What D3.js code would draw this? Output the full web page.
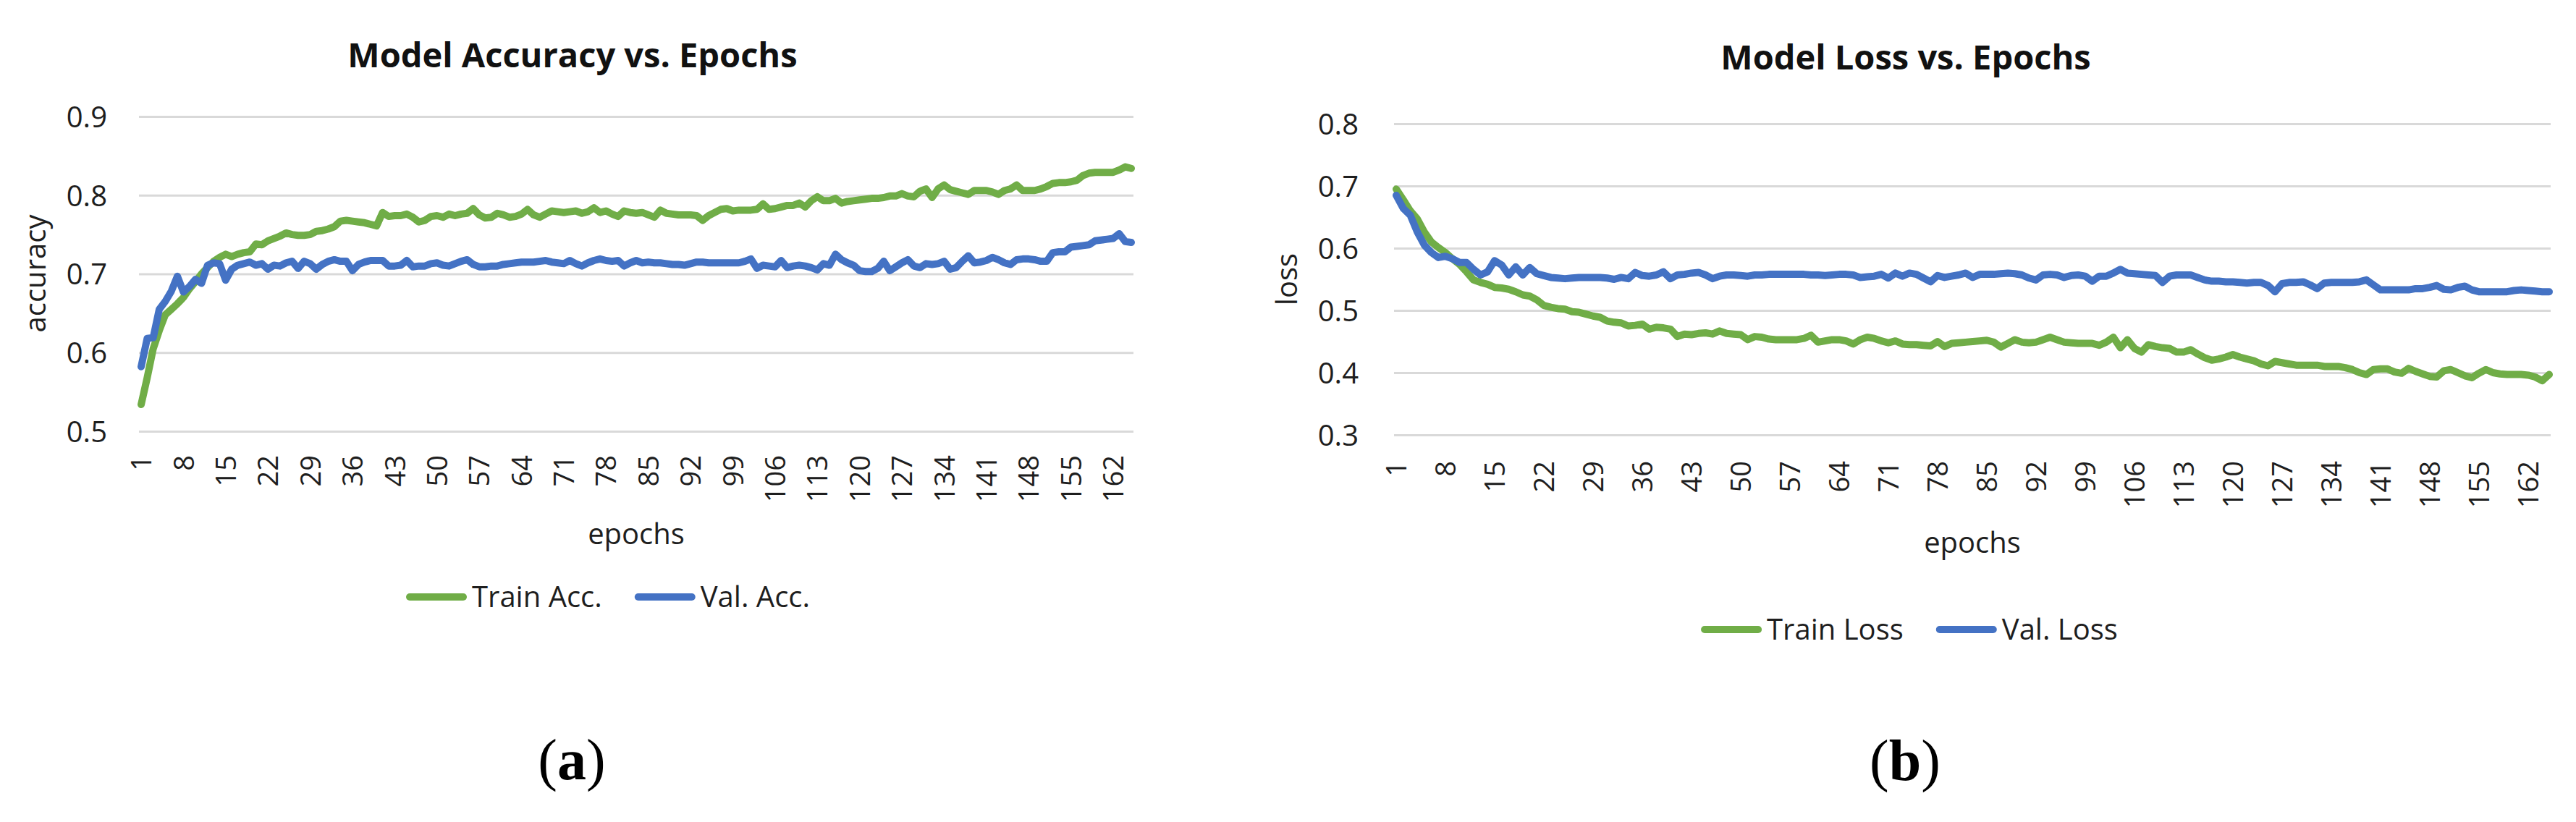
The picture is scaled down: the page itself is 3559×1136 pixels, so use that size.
<!DOCTYPE html>
<html>
<head>
<meta charset="utf-8">
<script src="https://cdn.jsdelivr.net/npm/d3@7"></script>
<style>
  html, body { margin: 0; padding: 0; background: #ffffff; }
  svg text { font-family: "Open Sans", "Noto Sans", "DejaVu Sans", sans-serif; }
  svg text.caption { font-family: "Liberation Serif", "DejaVu Serif", serif; }
</style>
</head>
<body>
<svg id="fig" width="3559" height="1136"></svg>
<script>
// ---------------- DATA ----------------
const trainAcc = [
  0.534,0.568,0.605,0.628,0.648,0.655,0.662,0.670,0.681,0.690,
  0.700,0.708,0.716,0.721,0.725,0.722,0.725,0.727,0.728,0.738,
  0.737,0.742,0.745,0.748,0.752,0.750,0.749,0.749,0.750,0.754,
  0.755,0.757,0.760,0.767,0.768,0.767,0.766,0.765,0.763,0.761,
  0.778,0.773,0.774,0.774,0.776,0.772,0.766,0.768,0.773,0.774,
  0.772,0.776,0.774,0.776,0.777,0.783,0.775,0.771,0.772,0.777,
  0.775,0.772,0.773,0.776,0.782,0.775,0.772,0.776,0.780,0.779,
  0.778,0.779,0.780,0.777,0.779,0.784,0.778,0.780,0.776,0.773,
  0.780,0.778,0.777,0.778,0.775,0.772,0.781,0.777,0.776,0.775,
  0.775,0.775,0.774,0.768,0.774,0.778,0.782,0.783,0.780,0.781,
  0.781,0.781,0.782,0.789,0.782,0.783,0.785,0.787,0.787,0.790,
  0.785,0.793,0.798,0.793,0.793,0.796,0.790,0.792,0.793,0.794,
  0.795,0.796,0.796,0.797,0.799,0.799,0.802,0.799,0.798,0.805,
  0.808,0.797,0.808,0.813,0.807,0.805,0.803,0.801,0.806,0.806,
  0.806,0.804,0.801,0.806,0.808,0.813,0.806,0.806,0.806,0.808,
  0.811,0.815,0.816,0.816,0.817,0.819,0.825,0.828,0.829,0.829,
  0.829,0.829,0.832,0.836,0.834
];
const valAcc = [
  0.582,0.618,0.619,0.655,0.665,0.678,0.697,0.677,0.684,0.693,
  0.688,0.711,0.714,0.713,0.692,0.706,0.711,0.713,0.715,0.711,
  0.713,0.706,0.711,0.710,0.714,0.716,0.707,0.716,0.713,0.706,
  0.712,0.716,0.718,0.716,0.716,0.704,0.712,0.715,0.717,0.717,
  0.717,0.710,0.710,0.711,0.717,0.709,0.710,0.710,0.713,0.714,
  0.711,0.710,0.713,0.716,0.718,0.712,0.709,0.709,0.710,0.710,
  0.712,0.713,0.714,0.715,0.715,0.715,0.716,0.717,0.715,0.714,
  0.713,0.717,0.713,0.710,0.714,0.717,0.719,0.717,0.716,0.717,
  0.710,0.714,0.717,0.714,0.715,0.714,0.714,0.713,0.712,0.712,
  0.711,0.713,0.715,0.715,0.714,0.714,0.714,0.714,0.714,0.714,
  0.716,0.719,0.707,0.711,0.710,0.709,0.717,0.708,0.710,0.711,
  0.710,0.708,0.705,0.713,0.711,0.725,0.718,0.714,0.711,0.704,
  0.703,0.703,0.707,0.716,0.704,0.709,0.714,0.718,0.710,0.708,
  0.713,0.712,0.713,0.716,0.706,0.708,0.716,0.723,0.714,0.715,
  0.717,0.721,0.718,0.714,0.712,0.718,0.719,0.719,0.718,0.716,
  0.716,0.727,0.728,0.728,0.734,0.735,0.736,0.737,0.742,0.743,
  0.744,0.745,0.751,0.741,0.740
];
const trainLoss = [
  0.695,0.678,0.660,0.647,0.626,0.610,0.601,0.593,0.583,0.574,
  0.562,0.549,0.545,0.542,0.537,0.536,0.534,0.530,0.525,0.523,
  0.517,0.508,0.505,0.503,0.502,0.498,0.497,0.494,0.491,0.489,
  0.483,0.481,0.480,0.475,0.476,0.478,0.470,0.473,0.472,0.470,
  0.458,0.462,0.461,0.463,0.464,0.462,0.467,0.463,0.462,0.461,
  0.453,0.458,0.457,0.454,0.453,0.453,0.453,0.453,0.455,0.460,
  0.449,0.451,0.453,0.453,0.451,0.446,0.453,0.457,0.455,0.451,
  0.448,0.451,0.446,0.445,0.445,0.444,0.443,0.450,0.442,0.447,
  0.448,0.449,0.450,0.451,0.452,0.449,0.441,0.447,0.453,0.449,
  0.448,0.449,0.453,0.457,0.453,0.449,0.448,0.447,0.447,0.447,
  0.444,0.449,0.457,0.440,0.453,0.439,0.433,0.445,0.442,0.440,
  0.439,0.433,0.433,0.437,0.430,0.424,0.420,0.422,0.425,0.429,
  0.425,0.422,0.419,0.414,0.411,0.418,0.416,0.414,0.412,0.412,
  0.412,0.412,0.410,0.410,0.410,0.408,0.405,0.400,0.397,0.405,
  0.406,0.406,0.401,0.399,0.407,0.402,0.398,0.394,0.393,0.403,
  0.405,0.400,0.395,0.392,0.399,0.405,0.400,0.398,0.397,0.397,
  0.397,0.396,0.393,0.387,0.397
];
const valLoss = [
  0.685,0.664,0.653,0.626,0.605,0.593,0.585,0.587,0.583,0.577,
  0.577,0.566,0.557,0.562,0.580,0.573,0.557,0.570,0.557,0.569,
  0.559,0.556,0.553,0.552,0.551,0.552,0.553,0.553,0.553,0.553,
  0.552,0.550,0.553,0.551,0.561,0.556,0.555,0.557,0.562,0.551,
  0.557,0.558,0.560,0.561,0.557,0.551,0.555,0.557,0.557,0.556,
  0.555,0.557,0.557,0.558,0.558,0.558,0.558,0.558,0.558,0.557,
  0.557,0.556,0.557,0.558,0.558,0.557,0.553,0.554,0.555,0.558,
  0.552,0.560,0.555,0.560,0.558,0.552,0.546,0.556,0.553,0.555,
  0.557,0.560,0.553,0.558,0.558,0.558,0.559,0.560,0.559,0.557,
  0.552,0.549,0.557,0.558,0.557,0.553,0.556,0.557,0.555,0.547,
  0.555,0.555,0.560,0.566,0.560,0.559,0.558,0.557,0.556,0.545,
  0.555,0.557,0.557,0.557,0.553,0.549,0.547,0.547,0.546,0.546,
  0.545,0.544,0.545,0.545,0.540,0.530,0.543,0.545,0.545,0.546,
  0.541,0.535,0.544,0.545,0.545,0.545,0.545,0.546,0.549,0.541,
  0.533,0.533,0.533,0.533,0.533,0.535,0.535,0.537,0.540,0.534,
  0.533,0.537,0.539,0.533,0.530,0.530,0.530,0.530,0.530,0.532,
  0.533,0.532,0.531,0.530,0.530
];
const epochTickLabels = [1,8,15,22,29,36,43,50,57,64,71,78,85,92,99,106,113,120,127,134,141,148,155,162];
const accTicks = [0.5,0.6,0.7,0.8,0.9];
const lossTicks = [0.3,0.4,0.5,0.6,0.7,0.8];
const accSeriesNames = ["Train Acc.","Val. Acc."];
const lossSeriesNames = ["Train Loss","Val. Loss"];
const seriesColors = ["#70ad47","#4472c4"];

// ---------------- DRAW ----------------
const svg = d3.select("#fig");
svg.append("rect").attr("width",3559).attr("height",1136).attr("fill","#ffffff");

function drawPanel(cfg){
  const g = svg.append("g");
  const n = cfg.series[0].length;
  const x = d3.scaleLinear().domain([1, n]).range([cfg.px0, cfg.px1]);
  const y = d3.scaleLinear().domain(cfg.yDomain).range([cfg.bottom, cfg.top]);

  // y axis with gridlines
  const ya = g.append("g")
    .attr("transform", `translate(${cfg.left},0)`)
    .call(d3.axisLeft(y).tickValues(cfg.yTicks)
      .tickSize(-(cfg.right - cfg.left)).tickPadding(cfg.yPad)
      .tickFormat(d3.format(".1f")));
  ya.attr("font-size", 40);
  ya.select(".domain").remove();
  ya.selectAll(".tick line").attr("stroke", "#d9d9d9").attr("stroke-width", 3);
  ya.selectAll(".tick text").attr("fill", "#1e1e1e").attr("dy", "0.36em");

  // x axis (category labels, rotated)
  const xa = g.append("g")
    .attr("transform", `translate(0,${cfg.bottom})`)
    .call(d3.axisBottom(x).tickValues(cfg.xTicks).tickSize(0).tickFormat(d3.format("d")));
  xa.attr("font-size", 38);
  xa.select(".domain").remove();
  xa.selectAll(".tick text")
    .attr("transform", "rotate(-90)")
    .attr("x", -cfg.xLabOff).attr("y", 0).attr("dy", "0.36em")
    .attr("text-anchor", "end").attr("fill", "#1e1e1e");

  // lines
  const line = d3.line().x((d, i) => x(i + 1)).y(d => y(d));
  cfg.series.forEach((s, k) => {
    g.append("path").datum(s)
      .attr("d", line)
      .attr("fill", "none")
      .attr("stroke", seriesColors[k])
      .attr("stroke-width", 10)
      .attr("stroke-linejoin", "round")
      .attr("stroke-linecap", "round");
  });

  // title
  g.append("text").attr("x", cfg.titleX).attr("y", cfg.titleY)
    .attr("text-anchor", "middle").attr("font-size", 47).attr("font-weight", "bold")
    .attr("fill", "#111").text(cfg.title);

  // axis titles
  g.append("text").attr("x", cfg.xTitleX).attr("y", cfg.xTitleY)
    .attr("text-anchor", "middle").attr("font-size", 40).attr("fill", "#1e1e1e")
    .text("epochs");
  g.append("text")
    .attr("transform", `translate(${cfg.yTitleX},${cfg.yTitleY}) rotate(-90)`)
    .attr("text-anchor", "middle").attr("font-size", 40).attr("fill", "#1e1e1e")
    .text(cfg.yTitle);

  // legend
  const lg = g.append("g");
  const items = cfg.names.map((nm, k) => {
    const it = lg.append("g");
    it.append("line").attr("stroke", seriesColors[k]).attr("stroke-width", 10)
      .attr("stroke-linecap", "round");
    const t = it.append("text").attr("font-size", 40).attr("fill", "#1e1e1e")
      .attr("dy", "0.36em").text(nm);
    return {it, t, w: t.node().getComputedTextLength()};
  });
  const symW = 84, symGap = 7, itemGap = 45;
  const total = d3.sum(items, d => symW + symGap + d.w) + itemGap * (items.length - 1);
  let cx = cfg.legendCX - total / 2;
  items.forEach(d => {
    d.it.select("line").attr("x1", cx + 5).attr("x2", cx + symW - 5)
      .attr("y1", cfg.legendY).attr("y2", cfg.legendY);
    d.t.attr("x", cx + symW + symGap).attr("y", cfg.legendY);
    cx += symW + symGap + d.w + itemGap;
  });

  // caption
  const cap = g.append("text").attr("class", "caption")
    .attr("x", cfg.capX).attr("y", cfg.capY)
    .attr("text-anchor", "middle").attr("font-size", 80).attr("fill", "#000");
  cap.append("tspan").text("(");
  cap.append("tspan").attr("font-weight", "bold").text(cfg.capLetter);
  cap.append("tspan").text(")");
}

drawPanel({
  series: [trainAcc, valAcc], names: accSeriesNames,
  left: 192, right: 1566, top: 161, bottom: 596, px0: 195, px1: 1563,
  yDomain: [0.5, 0.9], yTicks: accTicks, yPad: 44, xTicks: epochTickLabels, xLabOff: 33,
  title: "Model Accuracy vs. Epochs", titleX: 791, titleY: 93,
  xTitleX: 879, xTitleY: 752, yTitle: "accuracy", yTitleX: 63, yTitleY: 378,
  legendCX: 840, legendY: 825, capX: 790, capY: 1077, capLetter: "a"
});

drawPanel({
  series: [trainLoss, valLoss], names: lossSeriesNames,
  left: 1926, right: 3524, top: 171, bottom: 601, px0: 1929, px1: 3522,
  yDomain: [0.3, 0.8], yTicks: lossTicks, yPad: 49, xTicks: epochTickLabels, xLabOff: 36,
  title: "Model Loss vs. Epochs", titleX: 2633, titleY: 96,
  xTitleX: 2725, xTitleY: 764, yTitle: "loss", yTitleX: 1792, yTitleY: 386,
  legendCX: 2638, legendY: 870, capX: 2632, capY: 1078, capLetter: "b"
});
</script>
</body>
</html>
